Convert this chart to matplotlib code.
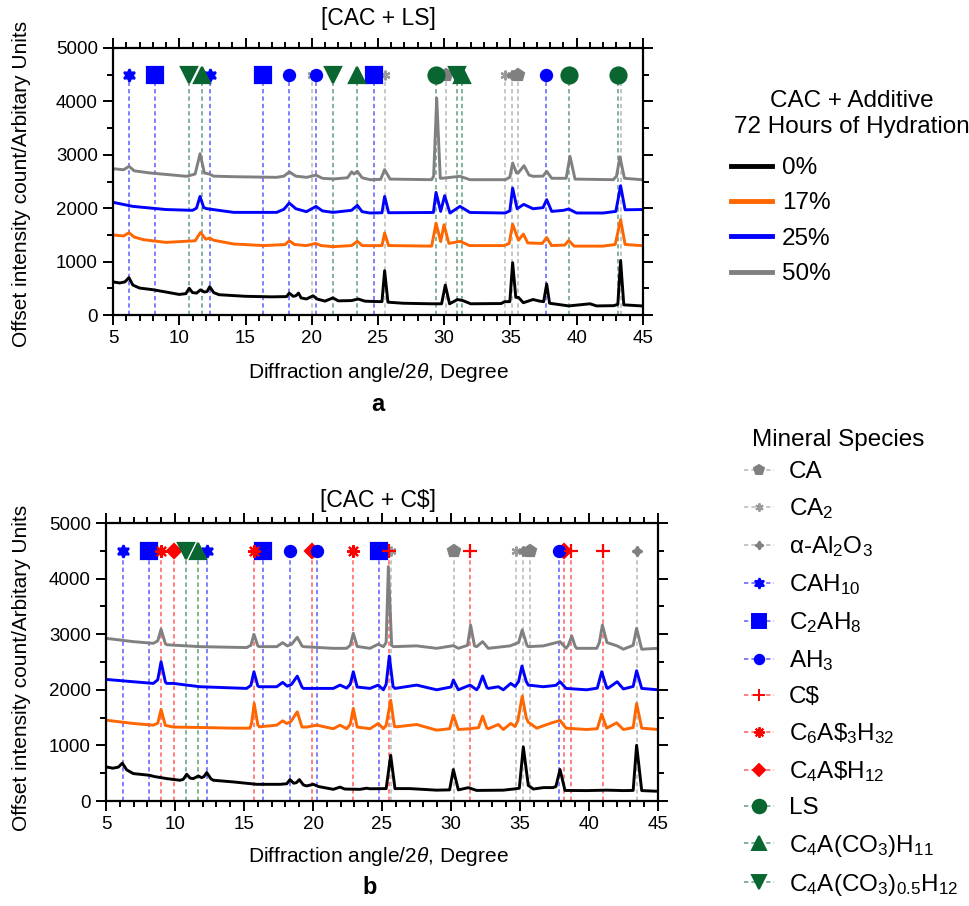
import matplotlib
matplotlib.use("Agg")
import matplotlib.pyplot as plt
from matplotlib.lines import Line2D
from matplotlib.ticker import MultipleLocator

plt.rcParams['font.family'] = ['Liberation Sans', 'DejaVu Sans']
plt.rcParams['mathtext.fontset'] = 'custom'
plt.rcParams['mathtext.rm'] = 'Liberation Sans'
plt.rcParams['mathtext.it'] = 'Liberation Sans:italic'
plt.rcParams['mathtext.default'] = 'regular'

### data: (2theta, counts)
# panel a  [CAC + LS]
a_0 = [(5.0, 620), (5.5, 600), (5.9, 620), (6.2, 700), (6.5, 560), (7.0, 505), (8.0, 474), (9.0, 430),
       (10.0, 385), (10.5, 400), (10.75, 500), (11.0, 420), (11.3, 410), (11.6, 470), (11.9, 430),
       (12.1, 440), (12.3, 530), (12.6, 420), (13.0, 380), (15.0, 350), (17.0, 340), (18.1, 345),
       (18.3, 410), (18.6, 350), (18.8, 360), (19.0, 410), (19.2, 320), (19.6, 300), (20.1, 360),
       (20.4, 300), (21.0, 260), (21.6, 320), (22.0, 265), (23.0, 270), (23.5, 300), (24.0, 260),
       (24.4, 255), (25.3, 250), (25.5, 830), (25.75, 240), (26.9, 220), (29.0, 210), (29.8, 210),
       (30.08, 560), (30.4, 210), (31.0, 290), (31.4, 270), (32.0, 210), (34.3, 215), (34.55, 250),
       (34.95, 250), (35.16, 980), (35.4, 330), (35.6, 330), (35.97, 230), (36.7, 290), (37.2, 260),
       (37.5, 250), (37.73, 580), (37.95, 220), (39.4, 170), (41.0, 210), (41.5, 170), (42.8, 175),
       (43.1, 200), (43.31, 1020), (43.55, 190), (44.9, 170), (45.0, 170)]
a_17 = [(5.0, 1500), (5.8, 1480), (6.2, 1540), (6.6, 1460), (7.3, 1410), (9.0, 1360), (11.2, 1390),
        (11.6, 1545), (12.0, 1420), (12.3, 1440), (12.6, 1400), (14.1, 1330), (16.4, 1300), (18.0, 1320),
        (18.3, 1390), (18.7, 1320), (19.6, 1300), (20.3, 1340), (20.7, 1300), (21.6, 1280), (23.0, 1300),
        (23.45, 1380), (23.8, 1300), (24.4, 1298), (25.3, 1300), (25.5, 1535), (25.8, 1300),
        (29.05, 1290), (29.38, 1720), (29.73, 1375), (29.98, 1690), (30.35, 1340), (31.2, 1380),
        (31.9, 1300), (34.5, 1300), (34.9, 1340), (35.16, 1700), (35.6, 1400), (35.97, 1515),
        (36.3, 1350), (37.4, 1340), (37.73, 1450), (38.1, 1300), (39.1, 1310), (39.39, 1395),
        (39.8, 1290), (42.0, 1290), (42.9, 1320), (43.31, 1785), (43.65, 1320), (44.9, 1300), (45.0, 1300)]
a_25 = [(5.0, 2110), (6.5, 2034), (9.0, 1975), (11.0, 1960), (11.3, 2000), (11.57, 2220), (11.85, 2010),
        (12.1, 1990), (14.1, 1922), (17.35, 1922), (17.9, 1980), (18.3, 2097), (18.8, 1990), (19.6, 1935),
        (20.32, 2034), (20.8, 1950), (21.6, 1922), (23.0, 1960), (23.44, 2053), (23.8, 1935), (24.4, 1910),
        (25.3, 1915), (25.5, 2220), (25.8, 1915), (29.18, 1920), (29.38, 2296), (29.73, 1940),
        (30.03, 2234), (30.43, 1910), (31.19, 2034), (31.94, 1920), (34.6, 1910), (34.95, 1950),
        (35.16, 2378), (35.5, 1990), (36.0, 2072), (36.7, 1990), (37.45, 2010), (37.73, 2160),
        (38.11, 1940), (39.0, 1960), (39.39, 1985), (39.99, 1910), (42.0, 1910), (42.95, 1940),
        (43.31, 2421), (43.65, 1970), (44.9, 1975), (45.0, 1975)]
a_50 = [(5.0, 2740), (5.8, 2720), (6.21, 2784), (6.6, 2700), (7.79, 2660), (10.56, 2597), (11.2, 2640),
        (11.57, 3020), (11.9, 2660), (12.27, 2640), (12.6, 2600), (14.08, 2590), (17.35, 2578),
        (17.9, 2600), (18.31, 2680), (18.8, 2600), (19.62, 2578), (20.32, 2620), (20.8, 2560),
        (21.63, 2547), (22.7, 2570), (23.01, 2680), (23.19, 2640), (23.44, 2691), (23.8, 2570),
        (24.4, 2534), (25.2, 2540), (25.5, 2722), (25.91, 2545), (29.05, 2534), (29.2, 2600),
        (29.43, 4063), (29.7, 2560), (29.81, 2560), (31.19, 2597), (31.94, 2534), (34.61, 2534),
        (34.95, 2580), (35.16, 2846), (35.45, 2660), (35.58, 2660), (36.02, 2796), (36.4, 2620),
        (36.72, 2597), (37.45, 2600), (37.73, 2691), (38.11, 2560), (39.2, 2560), (39.49, 2971),
        (39.87, 2545), (42.76, 2534), (43.0, 2600), (43.26, 2959), (43.6, 2560), (44.9, 2534), (45.0, 2534)]

# panel b  [CAC + C$]
b_0 = [(5.0, 613), (5.5, 590), (5.9, 610), (6.18, 680), (6.5, 560), (6.98, 493), (8.14, 463), (8.5, 440),
       (9.4, 403), (10.36, 373), (10.6, 390), (10.85, 481), (11.1, 410), (11.33, 403), (11.69, 450),
       (11.93, 420), (12.1, 440), (12.3, 511), (12.6, 400), (12.78, 373), (14.23, 343), (15.92, 300),
       (17.61, 300), (18.1, 310), (18.33, 384), (18.6, 320), (18.8, 330), (19.01, 384), (19.3, 290),
       (19.54, 271), (20.02, 300), (20.4, 260), (21.47, 210), (21.96, 250), (22.3, 215), (23.41, 210),
       (23.89, 230), (24.13, 220), (25.3, 223), (25.63, 820), (25.94, 223), (27.03, 223), (28.96, 195),
       (29.9, 200), (30.17, 566), (30.53, 200), (31.26, 240), (31.86, 190), (33.79, 195), (34.52, 215),
       (34.95, 230), (35.24, 973), (35.6, 280), (35.97, 215), (36.69, 241), (37.38, 241), (37.6, 260),
       (37.9, 566), (38.26, 190), (39.83, 187), (41.28, 195), (42.49, 187), (43.2, 190), (43.45, 1003),
       (43.82, 187), (45.0, 175)]
b_17 = [(5.0, 1454), (6.98, 1394), (8.43, 1364), (8.75, 1400), (8.99, 1646), (9.3, 1360), (9.88, 1330),
        (11.81, 1322), (14.23, 1310), (15.43, 1310), (15.55, 1400), (15.74, 1754), (16.0, 1370),
        (16.11, 1334), (17.37, 1364), (17.8, 1442), (18.09, 1394), (18.4, 1430), (18.86, 1604),
        (19.2, 1330), (19.54, 1330), (20.27, 1364), (21.47, 1300), (21.96, 1364), (22.44, 1300),
        (22.7, 1380), (22.92, 1665), (23.2, 1330), (24.13, 1300), (24.73, 1394), (25.1, 1300),
        (25.3, 1360), (25.63, 1814), (25.9, 1340), (26.06, 1334), (27.51, 1376), (28.96, 1274),
        (29.9, 1300), (30.17, 1544), (30.53, 1286), (31.38, 1300), (32.0, 1320), (32.29, 1526),
        (32.6, 1310), (32.7, 1300), (33.43, 1376), (33.79, 1286), (34.33, 1394), (34.64, 1340),
        (34.85, 1450), (35.16, 1886), (35.45, 1500), (35.6, 1418), (36.21, 1310), (37.3, 1406),
        (37.9, 1448), (38.34, 1310), (39.83, 1286), (40.6, 1300), (40.92, 1562), (41.28, 1310),
        (42.0, 1406), (42.49, 1286), (43.2, 1320), (43.45, 1754), (43.82, 1310), (45.0, 1286)]
b_25 = [(5.0, 2187), (6.98, 2145), (8.43, 2115), (8.75, 2180), (8.99, 2505), (9.3, 2140), (9.4, 2115),
        (9.88, 2115), (11.81, 2055), (15.19, 2025), (15.5, 2080), (15.72, 2325), (16.0, 2070),
        (16.11, 2055), (17.37, 2055), (17.8, 2133), (18.14, 2065), (18.45, 2100), (18.86, 2246),
        (19.2, 2050), (19.3, 2025), (21.47, 2025), (21.96, 2085), (22.44, 2030), (22.7, 2100),
        (22.92, 2325), (23.2, 2050), (24.13, 2025), (24.73, 2085), (25.1, 2000), (25.3, 2100),
        (25.53, 2607), (25.8, 2060), (25.94, 2025), (27.51, 2085), (28.96, 2000), (30.0, 2050),
        (30.17, 2176), (30.53, 2000), (31.38, 2085), (31.86, 2000), (32.0, 2050), (32.29, 2248),
        (32.6, 2040), (32.7, 2025), (33.43, 2055), (33.79, 2000), (34.33, 2115), (34.64, 2060),
        (34.9, 2150), (35.14, 2427), (35.45, 2150), (35.6, 2085), (36.69, 2055), (37.6, 2080),
        (37.9, 2145), (38.34, 2025), (39.83, 2000), (40.6, 2030), (40.92, 2325), (41.28, 2040),
        (41.36, 2025), (42.04, 2145), (42.49, 2015), (43.2, 2060), (43.45, 2343), (43.82, 2025), (45.0, 2000)]
b_50 = [(5.0, 2926), (6.98, 2866), (8.43, 2836), (8.75, 2880), (8.99, 3088), (9.3, 2830), (9.4, 2810),
        (11.81, 2776), (15.19, 2760), (15.5, 2800), (15.72, 2998), (16.0, 2790), (16.11, 2776),
        (17.37, 2776), (17.8, 2847), (18.14, 2790), (18.45, 2820), (18.86, 2944), (19.2, 2790),
        (19.3, 2776), (21.47, 2746), (22.44, 2746), (22.7, 2800), (22.92, 3016), (23.2, 2780),
        (24.13, 2746), (24.73, 2820), (25.1, 2776), (25.3, 2850), (25.46, 4216), (25.7, 2800),
        (25.82, 2776), (27.51, 2790), (28.96, 2746), (30.17, 2794), (30.53, 2746), (31.2, 2800),
        (31.42, 3166), (31.7, 2790), (31.86, 2776), (32.29, 2866), (32.7, 2746), (34.28, 2790),
        (34.9, 2850), (35.16, 3076), (35.5, 2800), (35.6, 2776), (36.69, 2790), (37.9, 2866),
        (38.34, 2746), (38.5, 2800), (38.75, 2967), (39.0, 2780), (39.11, 2746), (40.56, 2746),
        (40.75, 2850), (40.97, 3166), (41.3, 2850), (42.04, 2790), (42.49, 2730), (43.2, 2800),
        (43.45, 3106), (43.82, 2730), (45.0, 2746)]

series_labels = ["0%", "17%", "25%", "50%"]
series_colors = ["black", "#ff6600", "#0000ff", "#808080"]

### mineral species
mineral_names = ["CA", "CA$_2$", r"$\alpha$-Al$_2$O$_3$", "CAH$_{10}$", "C$_2$AH$_8$", "AH$_3$",
                 r"C\$", r"C$_6$A\$$_3$H$_{32}$", r"C$_4$A\$H$_{12}$", "LS",
                 "C$_4$A(CO$_3$)H$_{11}$", "C$_4$A(CO$_3$)$_{0.5}$H$_{12}$"]
peaks_a = [[30.1, 35.6], [20.0, 25.55, 34.55], [35.15, 43.35], [6.2, 12.3], [8.2, 16.35, 24.7],
           [18.3, 20.3, 37.7], [], [], [], [29.4, 39.4, 43.15], [11.7, 23.45, 31.35], [10.75, 21.6, 31.0]]
peaks_b = [[30.2, 35.7], [25.65, 34.7], [35.2, 43.45], [6.2, 12.3], [8.1, 16.4, 24.8],
           [18.3, 20.3, 37.8], [25.5, 31.4, 38.7, 41.0], [9.0, 15.75, 22.9], [9.9, 19.9, 38.2], [],
           [11.7], [10.8]]

GREEN = "#0a6630"
m_color = ["#808080", "#9a9a9a", "#808080", "#0000ff", "#0000ff", "#0000ff",
           "#ff0000", "#ff0000", "#ff0000", GREEN, GREEN, GREEN]
l_color = ["#c4c4c4", "#c8c8c8", "#c4c4c4", "#8080ff", "#8080ff", "#8080ff",
           "#ff8080", "#ff8080", "#ff8080", "#80b399", "#80b399", "#80b399"]
m_shape = ["p", (6, 2, 0), (4, 1, 0), (6, 1, 0), "s", "o", "+", (8, 2, 0), "D", "o", "^", "v"]
m_size = [9, 7, 7, 9, 11.5, 8, 10, 9, 7, 11.5, 12, 12]
m_z = [4, 4, 4, 4, 4, 5, 5, 4, 3, 4, 4, 4]
MARK_Y = 4500


def W(px):
  return px / 969


def H(py):
  return 1 - py / 906


def style_axes(ax):
  ax.set_xlim(5, 45)
  ax.set_ylim(0, 5000)
  ax.xaxis.set_major_locator(MultipleLocator(5))
  ax.xaxis.set_minor_locator(MultipleLocator(1))
  ax.yaxis.set_major_locator(MultipleLocator(1000))
  ax.yaxis.set_minor_locator(MultipleLocator(500))
  ax.tick_params(which="both", direction="out", top=True, right=True, width=1.4, labelsize=13.5, pad=4)
  ax.tick_params(which="major", length=7)
  ax.tick_params(which="minor", length=4.5)
  for s in ax.spines.values():
    s.set_linewidth(1.6)


def draw_panel(ax, curves, peaks):
  style_axes(ax)
  for i, pos in enumerate(peaks):
    for x in pos:
      ax.plot([x, x], [0, MARK_Y], color=l_color[i], lw=1.4, ls=(0, (2.2, 1.6)), zorder=1)
  for c, col in zip(curves, series_colors):
    xs, ys = zip(*c)
    ax.plot(xs, ys, color=col, lw=2.1, zorder=2, solid_joinstyle="round")
  for i, pos in enumerate(peaks):
    if pos:
      ax.plot(pos, [MARK_Y] * len(pos), ls="none", marker=m_shape[i], ms=m_size[i],
              mfc=m_color[i], mec=m_color[i], mew=1.6, zorder=m_z[i], clip_on=False)


fig = plt.figure(figsize=(9.69, 9.06), dpi=100)
ax_a = fig.add_axes([W(113), H(315), W(530), 267 / 906])
ax_b = fig.add_axes([W(106), H(801), W(552), 278 / 906])

draw_panel(ax_a, [a_0, a_17, a_25, a_50], peaks_a)
draw_panel(ax_b, [b_0, b_17, b_25, b_50], peaks_b)

ylab = "Offset intensity count/Arbitary Units"
xlab = r"Diffraction angle/2$\mathit{\theta}$, Degree"
fig.text(W(378), H(18), "[CAC + LS]", ha="center", va="center", fontsize=16.5)
fig.text(W(378), H(500), r"[CAC + C\$]", ha="center", va="center", fontsize=16.5)
fig.text(W(378), H(372), xlab, ha="center", va="center", fontsize=15)
fig.text(W(378), H(857), xlab, ha="center", va="center", fontsize=15)
fig.text(W(22), H(184), ylab, ha="center", va="center", rotation=90, fontsize=15)
fig.text(W(22), H(668), ylab, ha="center", va="center", rotation=90, fontsize=15)
fig.text(W(378), H(405), "a", ha="center", va="center", fontsize=17, fontweight="bold")
fig.text(W(370), H(887), "b", ha="center", va="center", fontsize=17, fontweight="bold")

# legend: hydration series
fig.text(W(852), H(114), "CAC + Additive\n72 Hours of Hydration", ha="center", va="center",
         multialignment="center", fontsize=17.5, linespacing=1.25)
s_handles = [Line2D([], [], color=c, lw=3.5) for c in series_colors]
fig.legend(s_handles, series_labels, loc="upper left", bbox_to_anchor=(W(731), H(157)),
           frameon=False, fontsize=17.5, handlelength=1.7, handletextpad=0.4,
           borderpad=0, borderaxespad=0, labelspacing=0.55)

# legend: mineral species
fig.text(W(752), H(440), "Mineral Species", ha="left", va="center", fontsize=17.5)
m_handles = [Line2D([], [], color=l_color[i], lw=1.4, ls=(0, (2.2, 1.6)), marker=m_shape[i],
                    ms=m_size[i] * 0.85, mfc=m_color[i], mec=m_color[i], mew=1.4)
             for i in range(len(mineral_names))]
fig.legend(m_handles, mineral_names, loc="upper left", bbox_to_anchor=(W(744), H(461)),
           frameon=False, fontsize=17.5, handlelength=1.25, handletextpad=0.6, numpoints=1,
           borderpad=0, borderaxespad=0, labelspacing=0.54)

fig.savefig("out.png", dpi=100)
